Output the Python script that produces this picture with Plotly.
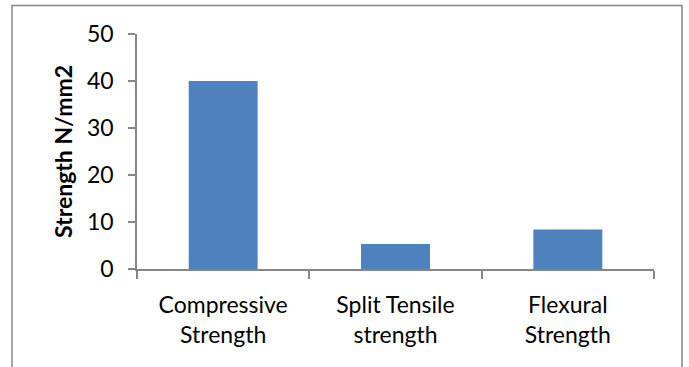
import plotly.graph_objects as go

categories = ["Compressive<br>Strength", "Split Tensile<br>strength", "Flexural<br>Strength"]
values = [40.0, 5.3, 8.4]
y_ticks = [0, 10, 20, 30, 40, 50]
y_title = "Strength N/mm2"

W, H = 689, 367
L, R, T, B = 137, 35, 34, 98
pw, ph = W - L - R, H - T - B

axis_col = "#868686"
font_fam = "Lato, 'Open Sans', sans-serif"

fig = go.Figure(go.Bar(x=categories, y=values, marker=dict(color="#4F81BD", line=dict(width=0)), width=0.4))

fig.update_layout(
    width=W, height=H,
    margin=dict(l=L, r=R, t=T, b=B, autoexpand=False),
    paper_bgcolor="white", plot_bgcolor="white",
    showlegend=False,
    font=dict(family=font_fam, color="black"),
)
fig.update_xaxes(
    range=[-0.5, 2.5], showline=True, linecolor=axis_col, linewidth=1.5,
    ticks="outside", tickson="boundaries", ticklen=8, tickcolor=axis_col, tickwidth=1.5,
    tickfont=dict(size=23, family=font_fam, color="black"), ticklabelstandoff=15,
    showgrid=False, zeroline=False, fixedrange=True, automargin=False,
)
fig.update_yaxes(
    range=[0, 50], tickvals=y_ticks, showline=True, linecolor=axis_col, linewidth=1.5,
    ticks="outside", ticklen=7, tickcolor=axis_col, tickwidth=1.5,
    tickfont=dict(size=23, family=font_fam, color="black"), ticklabelstandoff=10,
    showgrid=False, zeroline=False, automargin=False, fixedrange=True,
    title=dict(text="<b>" + y_title + "</b>", font=dict(size=23, family=font_fam, color="black"), standoff=8),
)

# outer chart border
def px_x(px):
    return (px - L) / pw

def px_y(py):
    return (H - B - py) / ph

fig.add_shape(type="rect", xref="paper", yref="paper",
              x0=px_x(12), x1=px_x(682), y0=px_y(400), y1=px_y(5.5),
              line=dict(color=axis_col, width=1.5), fillcolor="rgba(0,0,0,0)", layer="below")

fig.write_html("out.html", config={"displayModeBar": False},
               post_script="document.body.style.margin='0';document.body.style.padding='0';document.body.style.overflow='hidden';")
